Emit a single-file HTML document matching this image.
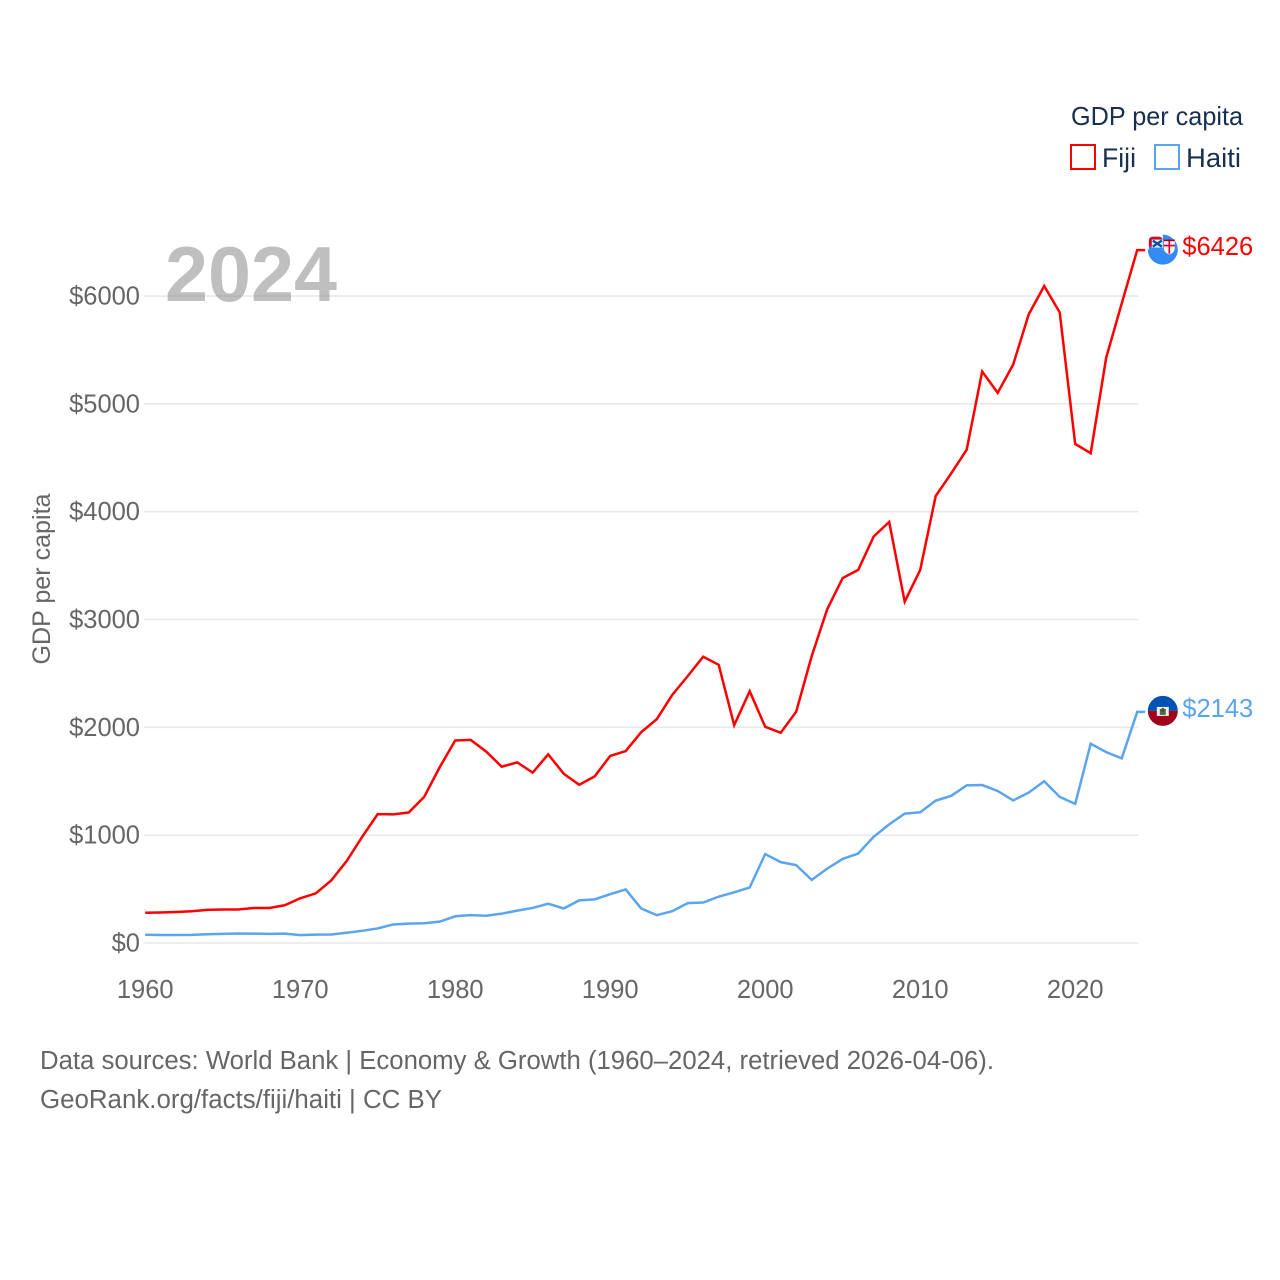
<!DOCTYPE html>
<html lang="en">
<head>
<meta charset="utf-8">
<title>GDP per capita: Fiji and Haiti</title>
<style>
  html, body { margin: 0; padding: 0; background: #fff; }
  svg { display: block; font-family: "Liberation Sans", sans-serif; }
</style>
</head>
<body>
<svg id="chart" xmlns="http://www.w3.org/2000/svg" width="1280" height="1280" viewBox="0 0 1280 1280">
  <rect width="1280" height="1280" fill="#fff"/>
  <g id="grid"></g>
  <g id="yticks"></g>
  <g id="xticks"></g>
  <text transform="translate(50 579) rotate(-90)" text-anchor="middle" font-size="25" fill="#666" textLength="171" lengthAdjust="spacingAndGlyphs">GDP per capita</text>
  <g id="series"></g>

  <text x="165" y="301" font-size="78" font-weight="700" fill="#808080" fill-opacity="0.5" textLength="172" lengthAdjust="spacingAndGlyphs">2024</text>

  <g>
    <text x="1071" y="125" font-size="26" fill="#17304f" textLength="172" lengthAdjust="spacingAndGlyphs">GDP per capita</text>
    <g>
      <rect x="1071" y="145" width="24" height="24" fill="none" stroke="#ff0000" stroke-width="2"/>
      <text x="1102" y="167" font-size="27" fill="#17304f" textLength="34" lengthAdjust="spacingAndGlyphs">Fiji</text>
    </g>
    <g>
      <rect x="1155" y="145" width="24" height="24" fill="none" stroke="#5ba4ee" stroke-width="2"/>
      <text x="1186" y="167" font-size="27" fill="#17304f" textLength="55" lengthAdjust="spacingAndGlyphs">Haiti</text>
    </g>
  </g>

  <defs>
    <clipPath id="flag-clip"><circle r="15"/></clipPath>
  </defs>

  <g id="flag-fiji">
    <g clip-path="url(#flag-clip)">
      <rect x="-16" y="-16" width="32" height="32" fill="#338af3"/>
      <rect x="-16" y="-16" width="16" height="16" fill="#338af3"/>
    </g>
    <rect x="-15" y="-16" width="15" height="16" fill="#fff"/>
    <rect x="-14" y="-13" width="14" height="13" rx="4" fill="#c8102e"/>
    <rect x="-14" y="-3" width="14" height="3" fill="#338af3"/>
    <rect x="-11" y="-10" width="11" height="8" fill="#f0f0f0"/>
    <path d="M-10 -9 L-1 -3 M-1 -9 L-10 -3" stroke="#0052b4" stroke-width="2.4"/>
    <path d="M1 -10 H12 V-1 Q12 3 6.5 5 Q1 3 1 -1 Z" fill="#f3f3f3"/>
    <path d="M6.5 -10 V4 M1 -4 H12" stroke="#d80027" stroke-width="1.6"/>
    <rect x="1" y="-10" width="11" height="1.6" fill="#a2001d"/>
  </g>

  <g id="flag-haiti">
    <g clip-path="url(#flag-clip)">
      <rect x="-16" y="-16" width="32" height="16" fill="#0052b4"/>
      <rect x="-16" y="0" width="32" height="16" fill="#a2001d"/>
      <rect x="-6" y="-4" width="12" height="9" fill="#f0f0f0"/>
      <rect x="-3" y="-2" width="6" height="6" fill="#4d6a45"/>
      <rect x="-1" y="-3" width="2" height="4" fill="#5a4a2a"/>
    </g>
  </g>

  <g id="endlabels"></g>

  <g>
    <text x="40" y="1069" font-size="25.5" fill="#666" textLength="954" lengthAdjust="spacingAndGlyphs">Data sources: World Bank | Economy &amp; Growth (1960–2024, retrieved 2026-04-06).</text>
    <text x="40" y="1108" font-size="25.5" fill="#666" textLength="402" lengthAdjust="spacingAndGlyphs">GeoRank.org/facts/fiji/haiti | CC BY</text>
  </g>
</svg>

<script>
const firstYear = 1960;
const fijiValues = [
  280, 283, 287, 294, 307, 311, 311, 325, 325, 350,
  415, 460, 580, 760, 985, 1195, 1193, 1210, 1355, 1630,
  1878, 1884, 1775, 1635, 1675, 1580, 1750, 1570, 1467, 1545,
  1735, 1780, 1955, 2075, 2300, 2475, 2655, 2580, 2020, 2335,
  2005, 1950, 2145, 2660, 3095, 3385, 3460, 3770, 3905, 3165,
  3460, 4145, 4355, 4575, 5300, 5102, 5365, 5830, 6093, 5848,
  4628, 4542, 5428, 5930, 6426
];
const haitiValues = [
  77, 74, 74, 75, 81, 85, 88, 87, 85, 87,
  73, 78, 79, 95, 113, 135, 172, 180, 183, 198,
  248, 258, 253, 272, 300, 325, 365, 320, 395, 405,
  453, 497, 320, 258, 295, 370, 375, 430, 470, 515,
  825, 750, 722, 585, 690, 780, 830, 985, 1100, 1200,
  1212, 1320, 1365, 1462, 1465, 1410, 1322, 1395, 1500, 1355,
  1290, 1848, 1770, 1712, 2143
];
const yTickValues = [0, 1000, 2000, 3000, 4000, 5000, 6000];
const xTickYears = [1960, 1970, 1980, 1990, 2000, 2010, 2020];

const SVG_NS = 'http://www.w3.org/2000/svg';
const xScale = function (year) { return 145.2 + (year - 1960) * 15.5; };
const yScale = function (value) { return 943 - value * 0.10783; };
const lastYear = firstYear + fijiValues.length - 1;

const gridGroup = document.getElementById('grid');
const yTickGroup = document.getElementById('yticks');
const xTickGroup = document.getElementById('xticks');
const seriesGroup = document.getElementById('series');
const endLabelGroup = document.getElementById('endlabels');

yTickValues.forEach(function (value) {
  const gridLine = document.createElementNS(SVG_NS, 'line');
  
  
  gridLine.setAttribute('x1', 144);
  gridLine.setAttribute('x2', xScale(lastYear) + 1);
  gridLine.setAttribute('y1', yScale(value));
  gridLine.setAttribute('y2', yScale(value));
  gridLine.setAttribute('stroke', '#e9e9e9');
  gridLine.setAttribute('stroke-width', '1.6');
  gridGroup.appendChild(gridLine);

  const tick = document.createElementNS(SVG_NS, 'text');
  
  
  tick.setAttribute('x', 140);
  tick.setAttribute('y', yScale(value) + 8.5);
  tick.setAttribute('text-anchor', 'end');
  tick.setAttribute('font-size', '25.5');
  tick.setAttribute('fill', '#666');
  tick.textContent = '$' + value;
  yTickGroup.appendChild(tick);
});

xTickYears.forEach(function (year) {
  const tick = document.createElementNS(SVG_NS, 'text');
  
  
  tick.setAttribute('x', xScale(year));
  tick.setAttribute('y', 998);
  tick.setAttribute('text-anchor', 'middle');
  tick.setAttribute('font-size', '25.5');
  tick.setAttribute('fill', '#666');
  tick.textContent = String(year);
  xTickGroup.appendChild(tick);
});

function linePoints(values) {
  const points = values.map(function (value, i) {
    return xScale(firstYear + i).toFixed(2) + ',' + yScale(value).toFixed(2);
  });
  const tailX = xScale(lastYear) + 8;
  points.push(tailX.toFixed(2) + ',' + yScale(values[values.length - 1]).toFixed(2));
  return points.join(' ');
}

const haitiLine = document.createElementNS(SVG_NS, 'polyline');


haitiLine.setAttribute('points', linePoints(haitiValues));
haitiLine.setAttribute('fill', 'none');
haitiLine.setAttribute('stroke', '#5ba4ee');
haitiLine.setAttribute('stroke-width', '2.5');
haitiLine.setAttribute('stroke-linejoin', 'miter');
seriesGroup.appendChild(haitiLine);

const fijiLine = document.createElementNS(SVG_NS, 'polyline');


fijiLine.setAttribute('points', linePoints(fijiValues));
fijiLine.setAttribute('fill', 'none');
fijiLine.setAttribute('stroke', '#ff0000');
fijiLine.setAttribute('stroke-width', '2.5');
fijiLine.setAttribute('stroke-linejoin', 'miter');
seriesGroup.appendChild(fijiLine);

const fijiLast = fijiValues[fijiValues.length - 1];
const haitiLast = haitiValues[haitiValues.length - 1];
const flagX = xScale(lastYear) + 25.6;

document.getElementById('flag-fiji').setAttribute('transform', 'translate(' + flagX + ' ' + (yScale(fijiLast) - 0.5) + ')');
document.getElementById('flag-haiti').setAttribute('transform', 'translate(' + flagX + ' ' + (yScale(haitiLast) - 1) + ')');

const fijiEndLabel = document.createElementNS(SVG_NS, 'text');


fijiEndLabel.setAttribute('x', flagX + 19.5);
fijiEndLabel.setAttribute('y', yScale(fijiLast) + 5);
fijiEndLabel.setAttribute('font-size', '25.5');
fijiEndLabel.setAttribute('fill', '#ff0000');
fijiEndLabel.textContent = '$' + fijiLast;
endLabelGroup.appendChild(fijiEndLabel);

const haitiEndLabel = document.createElementNS(SVG_NS, 'text');


haitiEndLabel.setAttribute('x', flagX + 19.5);
haitiEndLabel.setAttribute('y', yScale(haitiLast) + 5);
haitiEndLabel.setAttribute('font-size', '25.5');
haitiEndLabel.setAttribute('fill', '#5ba4ee');
haitiEndLabel.textContent = '$' + haitiLast;
endLabelGroup.appendChild(haitiEndLabel);
</script>
</body>
</html>
